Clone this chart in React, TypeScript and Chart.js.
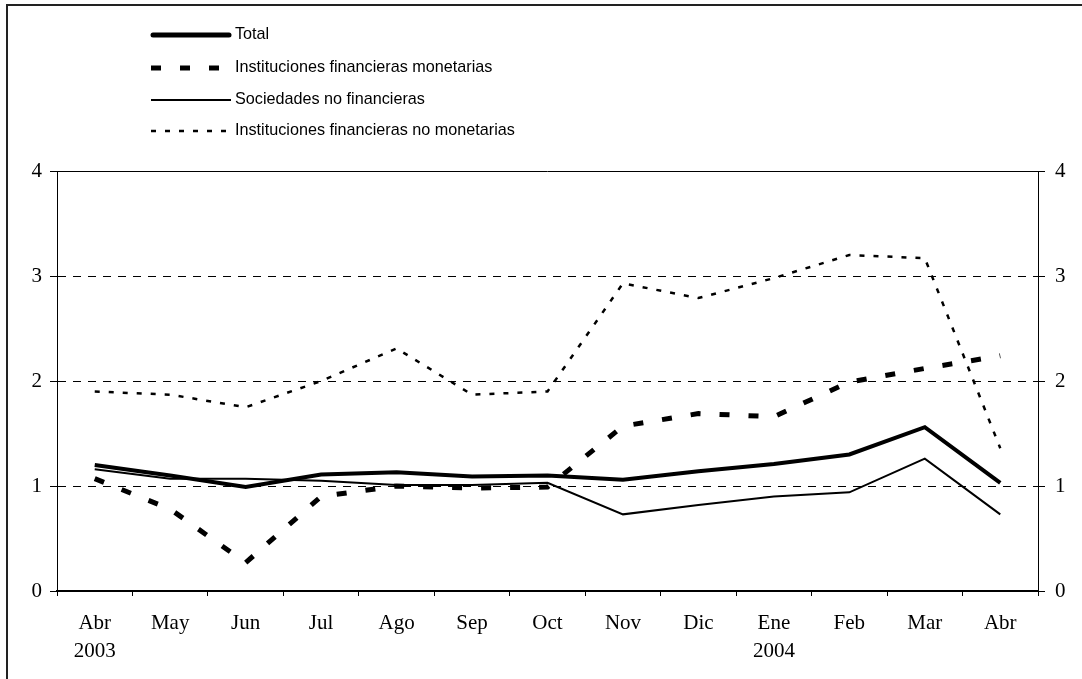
import React, { useEffect, useRef } from "react";
import { Chart, registerables } from "chart.js";

Chart.register(...registerables);

const months: (string | string[])[] = [
  ["Abr", "2003"], "May", "Jun", "Jul", "Ago", "Sep", "Oct", "Nov", "Dic", ["Ene", "2004"], "Feb", "Mar", "Abr",
];
const total = [1.2, 1.1, 0.99, 1.11, 1.13, 1.09, 1.1, 1.06, 1.14, 1.21, 1.3, 1.56, 1.03];
const ifm = [1.07, 0.78, 0.27, 0.9, 1.0, 0.98, 0.99, 1.57, 1.69, 1.66, 1.99, 2.12, 2.24];
const snf = [1.16, 1.07, 1.07, 1.05, 1.01, 1.01, 1.03, 0.73, 0.82, 0.9, 0.94, 1.26, 0.73];
const ifnm = [1.9, 1.87, 1.75, 2.0, 2.31, 1.87, 1.9, 2.93, 2.79, 2.98, 3.2, 3.17, 1.36];
const yTicks = [0, 1, 2, 3, 4];

const seriesNames = [
  "Total",
  "Instituciones financieras monetarias",
  "Sociedades no financieras",
  "Instituciones financieras no monetarias",
];

const legendPlugin = {
  id: "customLegend",
  beforeDraw(chart: any) {
    const ctx = chart.ctx;
    ctx.save();
    ctx.fillStyle = "#ffffff";
    ctx.fillRect(0, 0, chart.width, chart.height);
    ctx.strokeStyle = "#222";
    ctx.lineWidth = 2;
    ctx.strokeRect(7, 5, 3000, 3000);
    ctx.restore();
  },
  afterDraw(chart: any) {
    const ctx = chart.ctx;
    const area = chart.chartArea;
    ctx.save();
    ctx.strokeStyle = "#000";
    ctx.lineWidth = 1;
    ctx.setLineDash([]);
    ctx.beginPath();
    ctx.moveTo(area.left, Math.round(area.top) + 0.5);
    ctx.lineTo(area.right, Math.round(area.top) + 0.5);
    ctx.stroke();

    const rows = [35, 68, 100, 131];
    chart.data.datasets.forEach((ds: any, i: number) => {
      const y = rows[i];
      ctx.save();
      ctx.strokeStyle = "#000";
      ctx.lineWidth = i === 0 ? 5 : ds.borderWidth;
      ctx.setLineDash(ds.borderDash || []);
      ctx.lineCap = i === 0 ? "round" : "butt";
      ctx.beginPath();
      ctx.moveTo(i === 0 ? 153 : 151, y);
      ctx.lineTo(i === 0 ? 229 : 231, y);
      ctx.stroke();
      ctx.restore();
      ctx.save();
      ctx.fillStyle = "#000";
      ctx.font = "16.2px 'Liberation Sans', Arial, sans-serif";
      ctx.textBaseline = "middle";
      ctx.textAlign = "left";
      ctx.fillText(ds.label, 235, y);
      ctx.restore();
    });
    ctx.restore();
  },
};

export default function App() {
  const ref = useRef<HTMLCanvasElement | null>(null);
  useEffect(() => {
    if (!ref.current) return;
    const serif = "'Liberation Serif', 'Times New Roman', serif";
    const tickFont = { family: serif, size: 21, lineHeight: 1.33 };
    const gridColor = (c: any) =>
      c.tick && (c.tick.value === 0 || c.tick.value === 4) ? "rgba(0,0,0,0)" : "#000";
    const chart = new Chart(ref.current, {
      type: "line",
      data: {
        labels: months,
        datasets: [
          { label: seriesNames[0], data: total, borderColor: "#000", borderWidth: 4, pointRadius: 0, tension: 0, fill: false },
          { label: seriesNames[1], data: ifm, borderColor: "#000", borderWidth: 5, borderDash: [10, 19], pointRadius: 0, tension: 0, fill: false },
          { label: seriesNames[2], data: snf, borderColor: "#000", borderWidth: 2, pointRadius: 0, tension: 0, fill: false },
          { label: seriesNames[3], data: ifnm, borderColor: "#000", borderWidth: 2.5, borderDash: [5, 9], pointRadius: 0, tension: 0, fill: false },
        ] as any,
      },
      options: {
        animation: false,
        responsive: false,
        layout: { padding: { top: 171, left: 0, right: 0, bottom: 0 } },
        plugins: { legend: { display: false }, tooltip: { enabled: false } },
        scales: {
          x: {
            type: "category",
            offset: true,
            grid: { display: true, drawOnChartArea: false, offset: true, tickLength: 5, color: "#000", tickColor: "#000", lineWidth: 1 },
            border: { display: true, color: "#000", width: 2 },
            ticks: { font: tickFont, color: "#000", padding: 14, maxRotation: 0, autoSkip: false },
            afterFit: (s: any) => { s.height = 88; },
          },
          y: {
            position: "left",
            min: 0,
            max: 4,
            afterBuildTicks: (s: any) => { s.ticks = yTicks.map((v) => ({ value: v })); },
            grid: { color: gridColor, tickColor: "#000", tickLength: 7, tickBorderDash: [], lineWidth: 1 },
            border: { display: true, color: "#000", width: 1, dash: [8, 7] },
            ticks: { font: { family: serif, size: 21 }, color: "#000", padding: 8 },
            afterFit: (s: any) => { s.width = 57; },
          },
          y1: {
            position: "right",
            min: 0,
            max: 4,
            afterBuildTicks: (s: any) => { s.ticks = yTicks.map((v) => ({ value: v })); },
            grid: { drawOnChartArea: false, tickColor: "#000", tickLength: 7, color: "#000" },
            border: { display: true, color: "#000", width: 1 },
            ticks: { font: { family: serif, size: 21 }, color: "#000", padding: 10 },
            afterFit: (s: any) => { s.width = 44; },
          },
        },
      } as any,
      plugins: [legendPlugin],
    });
    return () => chart.destroy();
  }, []);
  return (
    <div style={{ position: "absolute", left: 0, top: 0, width: 1082, height: 679, background: "#fff" }}>
      <canvas ref={ref} width={1082} height={679} style={{ display: "block" }} />
    </div>
  );
}
